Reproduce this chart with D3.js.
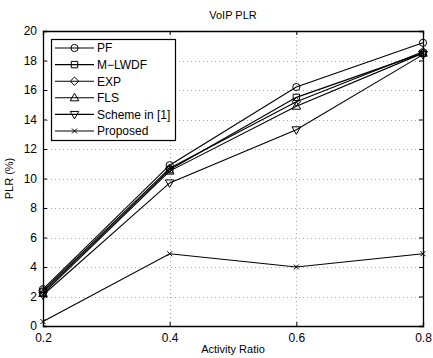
<!DOCTYPE html>
<html>
<head>
<meta charset="utf-8">
<script src="https://cdn.jsdelivr.net/npm/d3@7"></script>
<style>
  html, body { margin: 0; padding: 0; background: #fff; }
  svg text { font-family: "Liberation Sans", Arial, sans-serif; fill: #000; }
</style>
</head>
<body>
<svg id="chart" width="433" height="358"></svg>
<script>
// Activity ratio on the x axis, packet loss rate (%) per scheduler
const ratios = [0.2, 0.4, 0.6, 0.8];
const xTicks = [0.2, 0.4, 0.6, 0.8];
const yTicks = [0, 2, 4, 6, 8, 10, 12, 14, 16, 18, 20];

const seriesNames = ["PF", "M\u2212LWDF", "EXP", "FLS", "Scheme in [1]", "Proposed"];
const markers = ["circle", "square", "diamond", "triUp", "triDown", "cross"];

const pf      = [2.5, 10.9, 16.2, 19.2];
const mlwdf   = [2.3, 10.6, 15.5, 18.5];
const expRule = [2.4, 10.7, 15.2, 18.6];
const fls     = [2.2, 10.5, 14.9, 18.5];
const scheme1 = [2.1, 9.7, 13.3, 18.4];
const proposed = [0.3, 4.9, 4.0, 4.9];

const values = [pf, mlwdf, expRule, fls, scheme1, proposed];

const svg = d3.select("#chart");
const m = { left: 43, right: 10, top: 31, bottom: 32 };
const W = 433, H = 358;

const x = d3.scaleLinear().domain([0.2, 0.8]).range([m.left, W - m.right]);
const y = d3.scaleLinear().domain([0, 20]).range([H - m.bottom, m.top]);

// dotted grid
const grid = svg.append("g").attr("stroke", "#aaa").attr("stroke-width", 1)
  .attr("stroke-dasharray", "1,3");
grid.selectAll("line.gy").data(yTicks.slice(1, -1)).join("line")
  .attr("x1", x(0.2)).attr("x2", x(0.8))
  .attr("y1", d => Math.round(y(d)) + 0.5).attr("y2", d => Math.round(y(d)) + 0.5);
grid.selectAll("line.gx").data(xTicks.slice(1, -1)).join("line")
  .attr("y1", y(0)).attr("y2", y(20))
  .attr("x1", d => Math.round(x(d)) + 0.5).attr("x2", d => Math.round(x(d)) + 0.5);

// axes with inward ticks on all four sides
const fmtX = d3.format(".1f");
const axB = svg.append("g").attr("transform", `translate(0,${y(0)})`)
  .call(d3.axisBottom(x).tickValues(xTicks).tickFormat(fmtX).tickSize(-4).tickPadding(7));
const axT = svg.append("g").attr("transform", `translate(0,${y(20)})`)
  .call(d3.axisTop(x).tickValues(xTicks).tickFormat("").tickSize(-4));
const axL = svg.append("g").attr("transform", `translate(${x(0.2)},0)`)
  .call(d3.axisLeft(y).tickValues(yTicks).tickSize(-4).tickPadding(6));
const axR = svg.append("g").attr("transform", `translate(${x(0.8)},0)`)
  .call(d3.axisRight(y).tickValues(yTicks).tickFormat("").tickSize(-4));
[axB, axT, axL, axR].forEach(a => {
  a.selectAll("path").attr("stroke", "#000").attr("stroke-width", 1.3);
  a.selectAll("line").attr("stroke", "#000");
  a.selectAll("text").attr("font-size", 12).attr("fill", "#000")
    .style("font-family", "'Liberation Sans', Arial, sans-serif");
});

// marker shapes
function drawMarker(g, type, cx, cy) {
  const s = g.append("path").attr("fill", "none").attr("stroke", "#000").attr("stroke-width", 1);
  let d;
  switch (type) {
    case "circle":
      g.select("path").remove();
      g.append("circle").attr("cx", cx).attr("cy", cy).attr("r", 3.6)
        .attr("fill", "none").attr("stroke", "#000").attr("stroke-width", 1);
      return;
    case "square":
      d = `M${cx-3.2},${cy-3.2}h6.4v6.4h-6.4Z`; break;
    case "diamond":
      d = `M${cx},${cy-4.2}L${cx+4.2},${cy}L${cx},${cy+4.2}L${cx-4.2},${cy}Z`; break;
    case "triUp":
      d = `M${cx},${cy-4.5}L${cx+4.3},${cy+3}L${cx-4.3},${cy+3}Z`; break;
    case "triDown":
      d = `M${cx},${cy+4.5}L${cx+4.3},${cy-3}L${cx-4.3},${cy-3}Z`; break;
    case "cross":
      d = `M${cx-2.5},${cy-2.5}L${cx+2.5},${cy+2.5}M${cx-2.5},${cy+2.5}L${cx+2.5},${cy-2.5}`; break;
  }
  s.attr("d", d);
}

// series lines and markers
const line = d3.line().x((d, i) => x(ratios[i])).y(d => y(d));
values.forEach((vals, k) => {
  const g = svg.append("g");
  g.append("path").datum(vals).attr("d", line)
    .attr("fill", "none").attr("stroke", "#000").attr("stroke-width", 1.1);
  vals.forEach((v, i) => drawMarker(g.append("g"), markers[k], x(ratios[i]), y(v)));
});

// legend
const lg = svg.append("g");
lg.append("rect").attr("x", 51.5).attr("y", 39.5).attr("width", 124).attr("height", 101)
  .attr("fill", "#fff").attr("stroke", "#000").attr("stroke-width", 1.2);
seriesNames.forEach((name, k) => {
  const cy = 48 + k * 16.6;
  lg.append("line").attr("x1", 55).attr("x2", 94).attr("y1", cy).attr("y2", cy)
    .attr("stroke", "#000").attr("stroke-width", 1.1);
  drawMarker(lg.append("g"), markers[k], 74.5, cy);
  lg.append("text").attr("x", 97).attr("y", cy).attr("dy", "0.36em")
    .attr("font-size", 12).text(name);
});

// titles
svg.append("text").attr("x", (x(0.2) + x(0.8)) / 2).attr("y", 19)
  .attr("text-anchor", "middle").attr("font-size", 11).text("VoIP PLR");
svg.append("text").attr("x", (x(0.2) + x(0.8)) / 2).attr("y", 353)
  .attr("text-anchor", "middle").attr("font-size", 11).text("Activity Ratio");
svg.append("text").attr("transform", `translate(13,${(y(0) + y(20)) / 2}) rotate(-90)`)
  .attr("text-anchor", "middle").attr("font-size", 11).text("PLR (%)");
</script>
</body>
</html>
